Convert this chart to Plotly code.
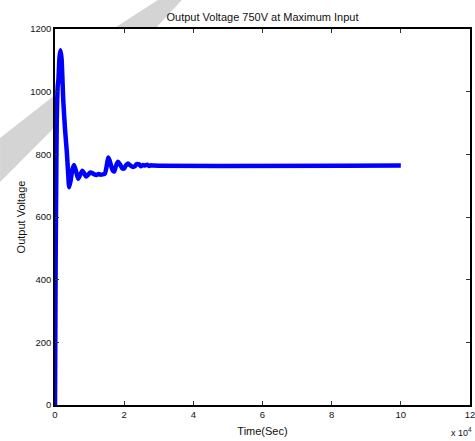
import plotly.graph_objects as go

# Time in seconds (axis shown in units of 10^4 s)
time_s = [0, 100, 200, 350, 500, 800, 1000, 1300, 1600, 1900, 2400, 2900, 3400,
          3800, 4100, 4500, 5000, 5500, 6100, 6700, 7300, 7900, 8400, 9000, 9600,
          10200, 10800, 11400, 12000, 12600, 13200, 13800, 14400, 14900, 15400,
          15800, 16300, 16700, 17100, 17600, 18200, 18800, 19400, 20000, 20500,
          21100, 21700, 22500, 23100, 23600, 24300, 24800, 25500, 26000, 26600,
          27200, 27800, 28400, 100000]
voltage = [0, 250, 480, 700, 900, 1020, 1040, 1110, 1132, 1105, 970, 880, 810,
           740, 695, 715, 750, 766, 745, 722, 735, 748, 740, 729, 735,
           742, 740, 736, 734, 737, 735, 736, 738, 760, 790,
           780, 760, 748, 745, 762, 776, 768, 756, 755, 765,
           771, 765, 760, 762, 769, 768, 762, 766, 764, 767,
           763, 765, 764, 764]

x_tickvals = [0, 20000, 40000, 60000, 80000, 100000, 120000]
x_ticktext = ["0", "2", "4", "6", "8", "10", "12"]
y_tickvals = [0, 200, 400, 600, 800, 1000, 1200]

FONT = "Liberation Sans, Arial, sans-serif"

fig = go.Figure()
fig.add_trace(go.Scatter(x=time_s, y=voltage, mode="lines",
                         line=dict(color="#0000ff", width=4.5, shape="spline", smoothing=0.6),
                         showlegend=False, hoverinfo="skip"))

axis_common = dict(showline=True, linecolor="black", linewidth=1.5, mirror="ticks",
                   ticks="inside", ticklen=4, tickwidth=1, tickcolor="#333333",
                   showgrid=False, zeroline=False, automargin=False,
                   ticklabeloverflow="allow",
                   tickfont=dict(family=FONT, size=9.5, color="#111111"))

fig.update_xaxes(range=[0, 120000], tickvals=x_tickvals, ticktext=x_ticktext,
                 title=dict(text="Time(Sec)", font=dict(family=FONT, size=11, color="#111111"),
                            standoff=8),
                 **axis_common)
fig.update_yaxes(range=[0, 1200], tickvals=y_tickvals,
                 title=dict(text="Output Voltage", font=dict(family=FONT, size=11, color="#111111"),
                            standoff=2),
                 **axis_common)

# watermark band (outside the plotting area)
band_color = "rgb(212,212,212)"
fig.add_shape(type="path", xref="paper", yref="paper", layer="below",
              path="M -0.1324 0.7101 L 0 0.8245 L 0 0.7394 L -0.1324 0.5931 Z",
              fillcolor=band_color, line=dict(width=0))
fig.add_shape(type="path", xref="paper", yref="paper", layer="below",
              path="M 0.1396 1.0 L 0.2479 1.0771 L 0.3057 1.0771 L 0.2407 1.0 Z",
              fillcolor=band_color, line=dict(width=0))

fig.add_annotation(text="x 10<sup>4</sup>", xref="paper", yref="paper",
                   x=0.9795, y=-0.072, xanchor="center", yanchor="middle",
                   showarrow=False, font=dict(family=FONT, size=9, color="#111111"))

fig.update_layout(
    width=475, height=441,
    margin=dict(l=55, r=4.5, t=29, b=36),
    paper_bgcolor="white", plot_bgcolor="white",
    title=dict(text="Output Voltage 750V at Maximum Input", x=0.5, xref="paper",
               y=(441 - 17) / 441, yref="container", xanchor="center", yanchor="middle",
               font=dict(family=FONT, size=11, color="#111111")),
)

fig.write_html("out.html", config={"displayModeBar": False},
               post_script="document.body.style.margin='0';document.body.style.overflow='hidden';")
